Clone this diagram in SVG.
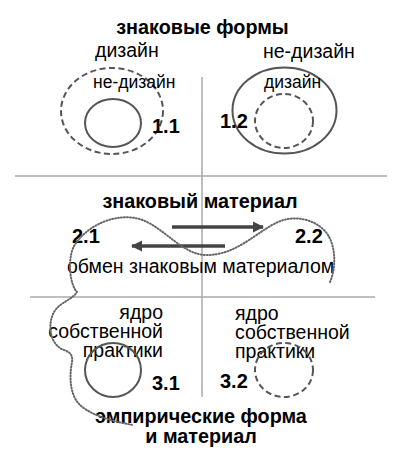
<svg xmlns="http://www.w3.org/2000/svg" width="404" height="466" viewBox="0 0 404 466">
<defs>
<style>
text{font-family:"Liberation Sans",Arial,sans-serif;fill:#000}
.t{font-weight:bold;font-size:19.8px;text-anchor:middle}
.n{font-weight:bold;font-size:20px}
.r{font-size:19.5px}
.s{font-size:17.5px}
.grid{stroke:#aaa;stroke-width:1.5;fill:none}
.solid{stroke:#555;stroke-width:2;fill:none}
.dash{stroke:#555;stroke-width:2;fill:none;stroke-dasharray:6 3.5}
.dot{stroke:#666;stroke-width:2;fill:none;stroke-dasharray:1 2;stroke-linecap:round}
.arr{stroke:#444;stroke-width:3.5;fill:none}
</style>
<marker id="ah" viewBox="0 0 10 10" refX="9" refY="5" markerWidth="3.2" markerHeight="4.4" orient="auto" markerUnits="strokeWidth">
<path d="M0,0 L10,5 L0,10 z" fill="#444"/>
</marker>
</defs>
<rect width="404" height="466" fill="#fff"/>
<g id="grid">
<line class="grid" x1="15" y1="176" x2="387" y2="176"/>
<line class="grid" x1="30" y1="297" x2="375" y2="297"/>
<line class="grid" x1="202" y1="77" x2="202" y2="397"/>
</g>
<g id="title-forms"><text class="t" x="202.5" y="34">знаковые формы</text></g>
<g id="node-1-1">
<text class="r" x="95" y="57">дизайн</text>
<ellipse class="dash" cx="112" cy="111" rx="51" ry="43"/>
<text class="s" x="93" y="88">не-дизайн</text>
<ellipse class="solid" cx="113" cy="123" rx="28" ry="24"/>
<text class="n" x="152" y="133">1.1</text>
</g>
<g id="node-1-2">
<text class="r" x="263" y="58">не-дизайн</text>
<ellipse class="solid" cx="284.5" cy="110.5" rx="52" ry="43"/>
<text class="s" x="264" y="88">дизайн</text>
<ellipse class="dash" cx="284" cy="121" rx="29" ry="27"/>
<text class="n" x="220" y="128">1.2</text>
</g>
<g id="title-material"><text class="t" x="200" y="208">знаковый материал</text></g>
<g id="node-2-1"><text class="n" x="72" y="243">2.1</text></g>
<g id="node-2-2"><text class="n" x="295" y="243">2.2</text></g>
<g id="exchange-label"><text class="r" x="67" y="273">обмен знаковым материалом</text></g>
<g id="node-3-1">
<text class="r" text-anchor="end" x="163" y="319">ядро</text>
<text class="r" text-anchor="end" x="163" y="338">собственной</text>
<text class="r" text-anchor="end" x="163" y="357">практики</text>
<ellipse class="solid" cx="113" cy="370" rx="28" ry="27"/>
<text class="n" x="152" y="390">3.1</text>
</g>
<g id="node-3-2">
<text class="r" x="235" y="320">ядро</text>
<text class="r" x="235" y="339">собственной</text>
<text class="r" x="235" y="358">практики</text>
<ellipse class="dash" cx="284" cy="370" rx="29" ry="27"/>
<text class="n" x="220" y="388">3.2</text>
</g>
<g id="title-empirical">
<text class="t" x="201" y="423">эмпирические форма</text>
<text class="t" x="201" y="443">и материал</text>
</g>
<g id="connectors">
<line class="arr" x1="172" y1="227" x2="263" y2="227" marker-end="url(#ah)"/>
<line class="arr" x1="225" y1="246" x2="132" y2="246" marker-end="url(#ah)"/>
<path class="dot" d="M330,282 C336,268 336,248 328,235 C318,220 296,214 278,222 C256,232 236,256 205,255 C180,254 160,222 135,218 C110,214 85,228 74,246 C67,260 70,285 77,292 C72,300 60,302 54,312 C47,325 50,345 64,350 C70,352 73,355 72,362 C69,378 70,395 80,405 C92,416 115,422 133,425"/>
</g>
</svg>
